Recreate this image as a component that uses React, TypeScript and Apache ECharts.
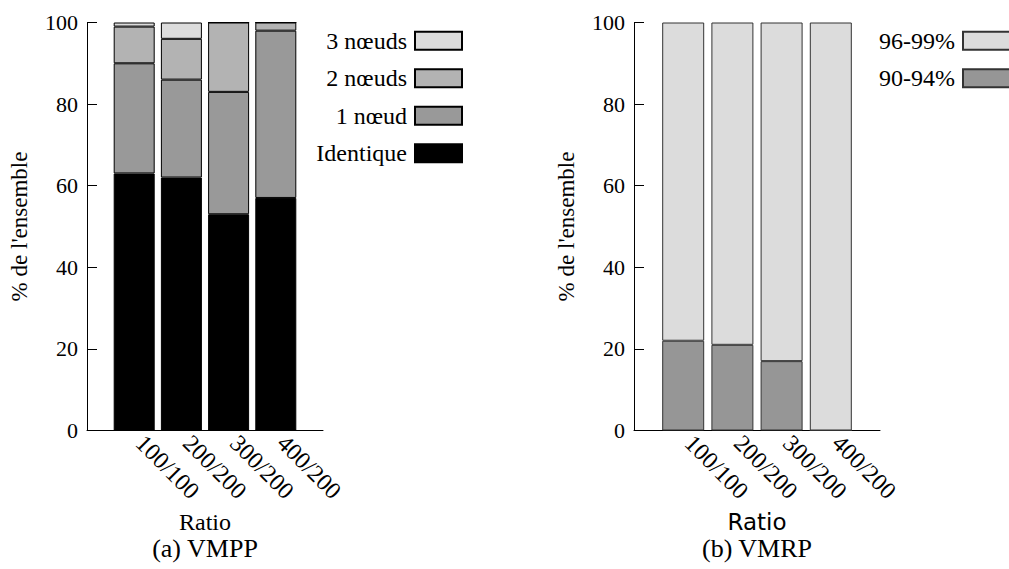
import React, { useEffect, useRef } from 'react';
import * as echarts from 'echarts';

const categories = ['100/100', '200/200', '300/200', '400/200'];
// (a) VMPP
const identique = [63, 62, 53, 57];
const unNoeud = [27, 24, 30, 41];
const deuxNoeuds = [9, 10, 17, 2];
const troisNoeuds = [1, 4, 0, 0];
// (b) VMRP
const vmrp9094 = [22, 21, 17, 0];
const vmrp9699 = [78, 79, 83, 100];

const yMin = 0;
const yMax = 100;
const yStep = 20;

const SERIF = "'Liberation Serif', serif";
const SANS = "'DejaVu Sans', sans-serif";

// empty slot at each end, like the original plot's x range
const axisSlots = ['', ...categories, ''];
const padded = (vals: number[]) => ['-', ...vals, '-'];

function xAxisFor(gridIndex: number, nameFont: string, nameSize: number) {
  return {
    gridIndex,
    type: 'category',
    data: axisSlots,
    boundaryGap: false,
    axisLine: { show: true, onZero: false, lineStyle: { color: '#000', width: 1 } },
    axisTick: { show: false },
    splitLine: { show: false },
    axisLabel: {
      rotate: -45,
      interval: 0,
      margin: 3,
      padding: [0, 0, 10, 8],
      fontFamily: SERIF,
      fontSize: 24,
      color: '#000',
    },
    name: 'Ratio',
    nameLocation: 'middle',
    nameGap: 75,
    nameTextStyle: { fontFamily: nameFont, fontSize: nameSize, color: '#000', lineHeight: nameSize },
  };
}

function yAxisFor(gridIndex: number) {
  return {
    gridIndex,
    type: 'value',
    min: yMin,
    max: yMax,
    interval: yStep,
    axisLine: { show: true, lineStyle: { color: '#000', width: 1 } },
    axisTick: { show: true, inside: true, length: 10, lineStyle: { color: '#000', width: 1 } },
    splitLine: { show: false },
    axisLabel: { fontFamily: SERIF, fontSize: 22, color: '#000', margin: 9 },
    name: "% de l'ensemble",
    nameLocation: 'middle',
    nameRotate: 90,
    nameGap: 56,
    nameTextStyle: { fontFamily: SERIF, fontSize: 23, color: '#000' },
  };
}

function barSeries(name: string, vals: number[], color: string, idx: number, stack: string, width: number, border: string) {
  return {
    type: 'bar',
    name,
    xAxisIndex: idx,
    yAxisIndex: idx,
    stack,
    barWidth: width,
    data: padded(vals),
    itemStyle: { color, borderColor: border, borderWidth: 1 },
    emphasis: { disabled: true },
  };
}

const legendText = { fontFamily: SERIF, fontSize: 24, color: '#000', lineHeight: 24, padding: [0, 3, 0, 0] };

function legendFor(names: string[], right: number) {
  return {
    data: names,
    orient: 'vertical',
    align: 'right',
    right,
    top: 28.7,
    itemWidth: 47,
    itemHeight: 18,
    itemGap: 13.5,
    padding: 0,
    icon: 'rect',
    selectedMode: false,
    textStyle: legendText,
  };
}

export default function App() {
  const ref = useRef<HTMLDivElement>(null);
  useEffect(() => {
    if (!ref.current) return;
    const chart = echarts.init(ref.current, null, { renderer: 'svg' });
    chart.setOption({
      animation: false,
      backgroundColor: '#fff',
      textStyle: { fontFamily: SERIF, color: '#000' },
      grid: [
        { left: 87, top: 22.5, width: 236, height: 408 },
        { left: 634, top: 22.5, width: 246, height: 408 },
      ],
      xAxis: [xAxisFor(0, SERIF, 24), xAxisFor(1, SANS, 23)],
      yAxis: [yAxisFor(0), yAxisFor(1)],
      legend: [
        legendFor(['3 nœuds', '2 nœuds', '1 nœud', 'Identique'], 546),
        legendFor(['96-99%', '90-94%'], -2),
      ],
      series: [
        barSeries('Identique', identique, '#000000', 0, 'a', 41, '#000'),
        barSeries('1 nœud', unNoeud, '#999999', 0, 'a', 41, '#000'),
        barSeries('2 nœuds', deuxNoeuds, '#b3b3b3', 0, 'a', 41, '#000'),
        barSeries('3 nœuds', troisNoeuds, '#dcdcdc', 0, 'a', 41, '#000'),
        barSeries('90-94%', vmrp9094, '#969696', 1, 'b', 42, '#333'),
        barSeries('96-99%', vmrp9699, '#dcdcdc', 1, 'b', 42, '#333'),
      ],
      graphic: [
        {
          type: 'text',
          x: 205,
          y: 548,
          style: { text: '(a) VMPP', font: `26px ${SERIF}`, fill: '#000', textAlign: 'center', textVerticalAlign: 'middle' },
        },
        {
          type: 'text',
          x: 757,
          y: 548,
          style: { text: '(b) VMRP', font: `26px ${SERIF}`, fill: '#000', textAlign: 'center', textVerticalAlign: 'middle' },
        },
      ],
    });
    return () => chart.dispose();
  }, []);
  return <div ref={ref} style={{ position: 'absolute', left: 0, top: 0, width: 1009, height: 569 }} />;
}
